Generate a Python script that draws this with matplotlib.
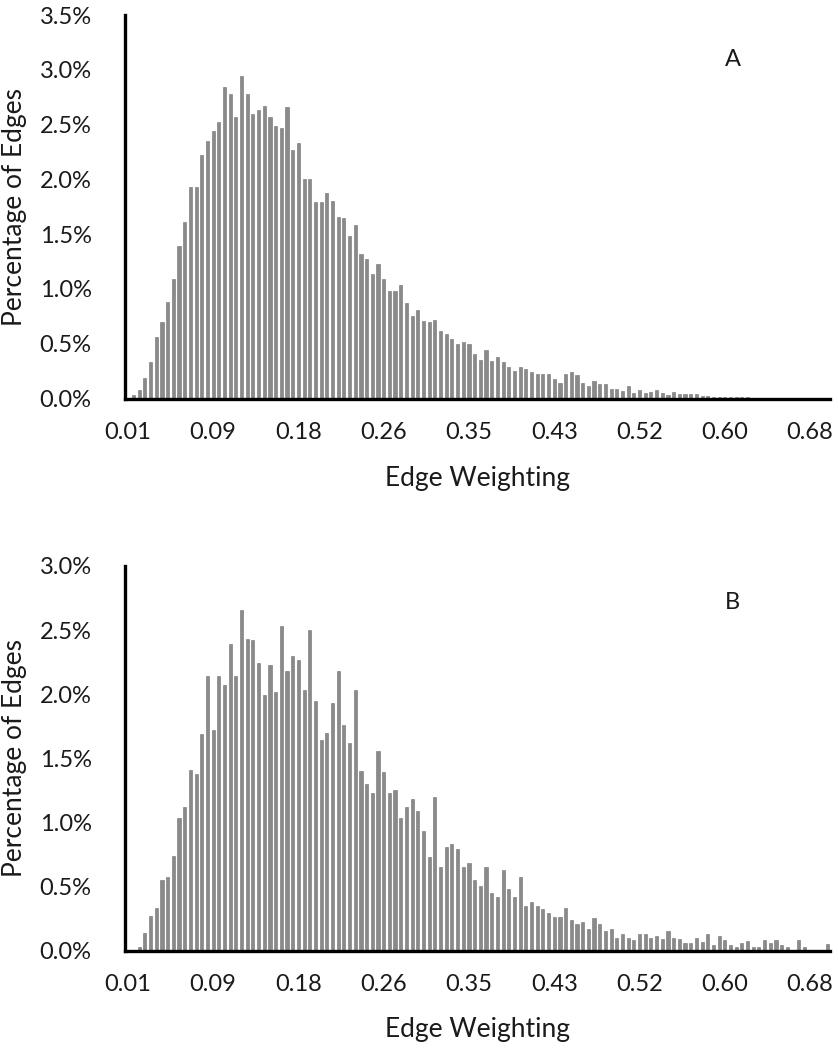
import matplotlib
matplotlib.use("Agg")
import matplotlib.pyplot as plt
import numpy as np

# ---- data (percent of edges per edge-weight bin) ----
x_tick_labels = ['0.01', '0.09', '0.18', '0.26', '0.35', '0.43', '0.52', '0.60', '0.68']

pct_a = [0.0, 0.03, 0.08, 0.19, 0.33, 0.56, 0.70, 0.88, 1.09, 1.39,
         1.61, 1.93, 1.93, 2.22, 2.35, 2.44, 2.52, 2.84, 2.78, 2.57,
         2.94, 2.78, 2.60, 2.63, 2.67, 2.57, 2.49, 2.47, 2.66, 2.27,
         2.33, 2.00, 2.00, 1.79, 1.79, 1.88, 1.80, 1.66, 1.65, 1.48,
         1.58, 1.32, 1.27, 1.14, 1.23, 1.09, 0.98, 0.98, 1.04, 0.87,
         0.75, 0.81, 0.71, 0.70, 0.72, 0.62, 0.59, 0.54, 0.50, 0.52,
         0.50, 0.41, 0.35, 0.44, 0.34, 0.38, 0.33, 0.29, 0.25, 0.29,
         0.27, 0.24, 0.22, 0.22, 0.22, 0.18, 0.14, 0.22, 0.24, 0.21,
         0.14, 0.11, 0.16, 0.13, 0.13, 0.09, 0.09, 0.07, 0.11, 0.05,
         0.08, 0.05, 0.06, 0.075, 0.05, 0.03, 0.06, 0.045, 0.04, 0.045,
         0.04, 0.025, 0.02, 0.015, 0.015, 0.015, 0.012, 0.01, 0.01, 0.01,
         0.008, 0.008, 0.008, 0.006, 0.0, 0.0, 0.008, 0.006, 0.0, 0.008,
         0.006, 0.0, 0.0, 0.0]

pct_b = [0.0, 0.0, 0.03, 0.14, 0.27, 0.33, 0.55, 0.57, 0.74, 1.03,
         1.12, 1.41, 1.38, 1.69, 2.14, 1.72, 2.14, 2.07, 2.39, 2.14,
         2.66, 2.43, 2.42, 2.24, 1.99, 2.23, 2.02, 2.53, 2.18, 2.30,
         2.27, 2.03, 2.50, 1.95, 1.64, 1.70, 1.93, 2.18, 1.76, 1.62,
         2.03, 1.40, 1.30, 1.23, 1.56, 1.39, 1.23, 1.25, 1.03, 1.12,
         1.18, 1.09, 0.93, 0.73, 1.20, 0.65, 0.81, 0.83, 0.79, 0.65,
         0.68, 0.55, 0.50, 0.65, 0.45, 0.42, 0.63, 0.48, 0.42, 0.57,
         0.35, 0.38, 0.35, 0.32, 0.29, 0.26, 0.26, 0.33, 0.24, 0.21,
         0.22, 0.17, 0.25, 0.21, 0.15, 0.17, 0.10, 0.13, 0.10, 0.08,
         0.13, 0.13, 0.10, 0.11, 0.09, 0.155, 0.095, 0.09, 0.055, 0.055,
         0.10, 0.065, 0.13, 0.045, 0.11, 0.08, 0.045, 0.025, 0.055, 0.075,
         0.03, 0.03, 0.08, 0.06, 0.08, 0.045, 0.025, 0.0, 0.08, 0.025,
         0.0, 0.0, 0.0, 0.05]

panel_labels = ['A', 'B']
y_max = [3.5, 3.0]
x_title = 'Edge Weighting'
y_title = 'Percentage of Edges'

# ---- style ----
plt.rcParams['font.family'] = ['Lato', 'DejaVu Sans']
text_color = '#1a1a1a'
bar_color = '#8a8a8a'

fig = plt.figure(figsize=(8.38, 10.5), dpi=100)
W, H = 838.0, 1050.0
axes_px = [(125, 15, 830, 398.5), (125, 566, 830, 950.5)]
label_pos = [(0.862, 0.883), (0.862, 0.904)]
xlabel_offset_px = 79.5

for i, (vals, ymax, plab) in enumerate(zip([pct_a, pct_b], y_max, panel_labels)):
    x0, y0, x1, y1 = axes_px[i]
    ax = fig.add_axes([x0 / W, 1 - y1 / H, (x1 - x0) / W, (y1 - y0) / H])
    n = len(vals)
    idx = np.arange(n)
    ax.bar(idx, vals, width=0.55, color=bar_color, edgecolor='#707070', linewidth=0.4)
    ax.set_xlim(-0.5, n - 0.5)
    ax.set_ylim(0, ymax)
    yt = np.arange(0, ymax + 0.001, 0.5)
    ax.set_yticks(yt)
    ax.set_yticklabels([f'{v:.1f}%' for v in yt])
    ax.set_xticks(np.arange(0, n, 15)[:len(x_tick_labels)])
    ax.set_xticklabels(x_tick_labels)
    for s in ['top', 'right']:
        ax.spines[s].set_visible(False)
    for s in ['left', 'bottom']:
        ax.spines[s].set_linewidth(2.4)
        ax.spines[s].set_color('black')
    ax.tick_params(axis='y', length=0, pad=24, labelsize=17, labelcolor=text_color)
    ax.tick_params(axis='x', length=0, pad=17, labelsize=17, labelcolor=text_color)
    h_px = y1 - y0
    ax.set_xlabel(x_title, fontsize=19, color=text_color)
    ax.xaxis.set_label_coords(0.5, -xlabel_offset_px / h_px)
    ax.xaxis.label.set_va('center')
    ax.set_ylabel(y_title, fontsize=19, color=text_color)
    ax.yaxis.set_label_coords((15 - x0) / (x1 - x0), 0.5)
    ax.yaxis.label.set_va('center')
    ax.text(label_pos[i][0], label_pos[i][1], plab, transform=ax.transAxes,
            fontsize=17, color=text_color, ha='center', va='center')

fig.savefig('out.png', dpi=100, facecolor='white')
